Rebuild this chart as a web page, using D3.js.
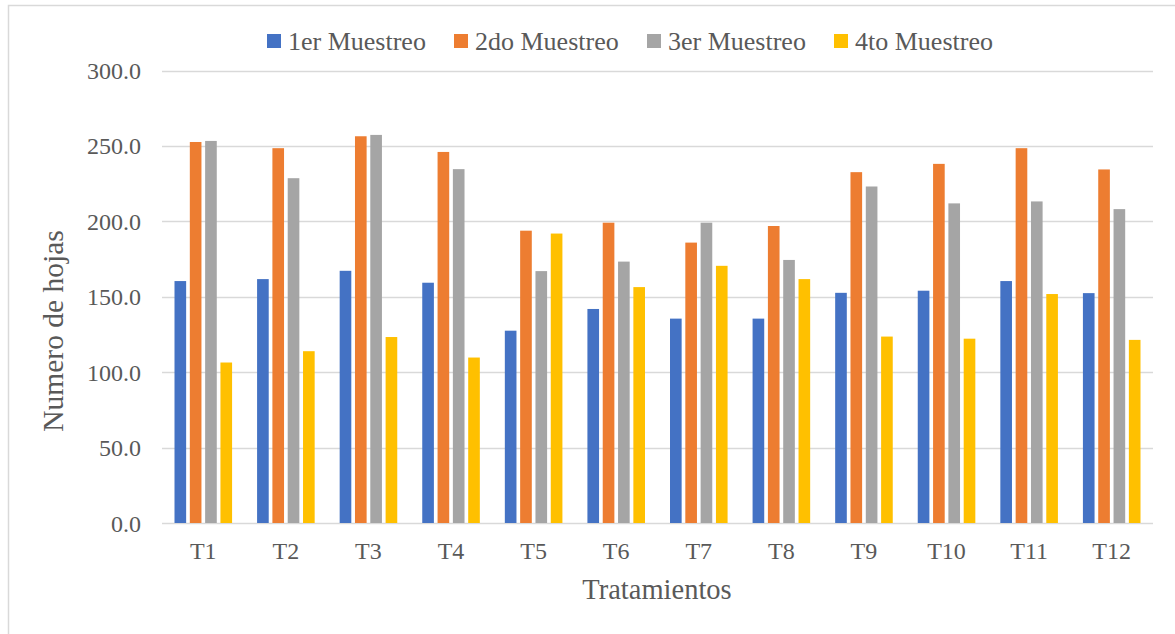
<!DOCTYPE html>
<html><head><meta charset="utf-8">
<script src="https://cdn.jsdelivr.net/npm/d3@7"></script>
<style>body{margin:0;background:#fff}svg{display:block}</style>
</head><body>
<svg id="c" width="1175" height="634"></svg>
<script>
const categories = ["T1","T2","T3","T4","T5","T6","T7","T8","T9","T10","T11","T12"];
const seriesNames = ["1er Muestreo","2do Muestreo","3er Muestreo","4to Muestreo"];
const muestreo1 = [160.4,161.7,167.2,159.3,127.5,141.9,135.5,135.5,152.6,154.0,160.4,152.4];
const muestreo2 = [252.6,248.5,256.4,246.0,193.8,199.1,185.9,196.9,232.6,238.1,248.5,234.4];
const muestreo3 = [253.3,228.6,257.3,234.6,167.0,173.3,199.1,174.4,223.1,211.9,213.2,208.1];
const muestreo4 = [106.4,113.9,123.3,109.7,191.9,156.4,170.5,161.7,123.6,122.2,151.8,121.4];
const yTicks = [0,50,100,150,200,250,300];
const colors = ["#4472C4","#ED7D31","#A5A5A5","#FFC000"];

(function(){
const allSeries = [muestreo1,muestreo2,muestreo3,muestreo4];
const svg = d3.select("#c");
const font = "'Liberation Serif','Times New Roman',serif";
const txt = "#595959";

// chart border
svg.append("rect").attr("x",8.5).attr("y",5.5).attr("width",1180).attr("height",640)
  .attr("fill","none").attr("stroke","#D9D9D9").attr("stroke-width",1.5);

const pl=162, pr=1153, pt=70.5, pb=523;
const y = d3.scaleLinear().domain([0,300]).range([pb,pt]);
const x0 = d3.scaleBand().domain(categories).range([pl,pr]).padding(0);
const x1 = d3.scaleBand().domain(seriesNames).range([12.5, x0.bandwidth()-12.5]).paddingInner(0.24);

// gridlines
svg.append("g").selectAll("line").data(yTicks).join("line")
  .attr("x1",pl).attr("x2",pr)
  .attr("y1",d=>Math.round(y(d))+0.5).attr("y2",d=>Math.round(y(d))+0.5)
  .attr("stroke","#D9D9D9").attr("stroke-width",1.5);

// y tick labels
svg.append("g").selectAll("text").data(yTicks).join("text")
  .attr("x",141).attr("y",d=>y(d)+8.5)
  .attr("text-anchor","end").attr("font-family",font).attr("font-size",24).attr("fill",txt)
  .text(d=>d.toFixed(1));

// bars
const g = svg.append("g");
categories.forEach((c,i)=>{
  seriesNames.forEach((s,j)=>{
    const v = allSeries[j][i];
    g.append("rect")
      .attr("x",x0(c)+x1(s)).attr("width",x1.bandwidth())
      .attr("y",y(v)).attr("height",y(0)-y(v))
      .attr("fill",colors[j]);
  });
});

// x tick labels
svg.append("g").selectAll("text").data(categories).join("text")
  .attr("x",d=>x0(d)+x0.bandwidth()/2).attr("y",559)
  .attr("text-anchor","middle").attr("font-family",font).attr("font-size",24).attr("fill",txt)
  .text(d=>d);

// axis titles
svg.append("text").attr("x",657).attr("y",599).attr("text-anchor","middle")
  .attr("font-family",font).attr("font-size",28.5).attr("fill",txt).text("Tratamientos");
svg.append("text").attr("transform","translate(63,331) rotate(-90)").attr("text-anchor","middle")
  .attr("font-family",font).attr("font-size",29.5).attr("fill",txt).text("Numero de hojas");

// legend
const legendX = [267, 454, 647, 834];
const leg = svg.append("g");
seriesNames.forEach((s,j)=>{
  leg.append("rect").attr("x",legendX[j]).attr("y",34).attr("width",14).attr("height",14).attr("fill",colors[j]);
  leg.append("text").attr("x",legendX[j]+21).attr("y",50)
    .attr("font-family",font).attr("font-size",26).attr("fill",txt).text(s);
});
})();
</script>
</body></html>
